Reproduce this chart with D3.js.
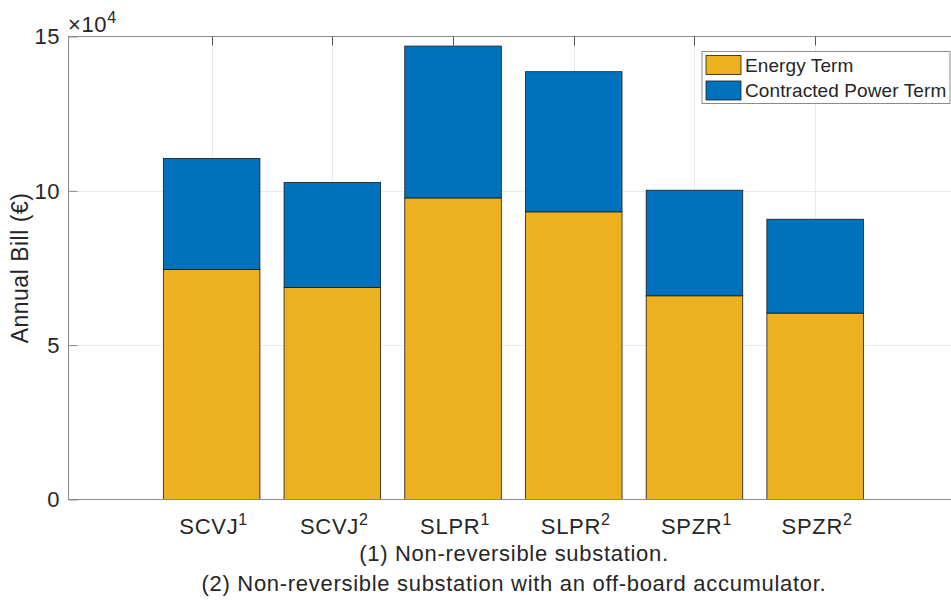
<!DOCTYPE html>
<html>
<head>
<meta charset="utf-8">
<script src="https://cdn.jsdelivr.net/npm/d3@7"></script>
<style>
  body { margin: 0; background: #fff; }
  svg text { font-family: "Liberation Sans", Arial, sans-serif; fill: #262626; }
</style>
</head>
<body>
<div id="chart"></div>
<script>
// chart data
const categories = ["SCVJ", "SCVJ", "SLPR", "SLPR", "SPZR", "SPZR"];
const superscripts = ["1", "2", "1", "2", "1", "2"];
const energyTerm = [74500, 68700, 97700, 93200, 66000, 60400];
const powerTerm = [36000, 34000, 49200, 45400, 34200, 30400];
const seriesNames = ["Energy Term", "Contracted Power Term"];
const seriesColors = ["#EDB120", "#0072BD"];
const yTicks = [0, 5e4, 10e4, 15e4];
const footnotes = [
  "(1) Non-reversible substation.",
  "(2) Non-reversible substation with an off-board accumulator."
];

const W = 951, H = 600;
const plot = {left: 68, right: 960, top: 36.5, bottom: 499.5};

const svg = d3.select("#chart").append("svg")
  .attr("width", W).attr("height", H);

const rows = categories.map((c, i) => ({idx: i + 1, energy: energyTerm[i], power: powerTerm[i]}));
const stack = d3.stack().keys(["energy", "power"]);
const layers = stack(rows);

const x = d3.scaleLinear().domain([-0.19, 7.2]).range([plot.left, plot.right]);
const y = d3.scaleLinear().domain([0, 15e4]).range([plot.bottom, plot.top]);
const barW = x(0.8) - x(0);

// grid
const grid = svg.append("g").attr("stroke", "#ebebeb").attr("stroke-width", 1);
grid.selectAll(".gy").data(yTicks.slice(1, -1)).join("line")
  .attr("x1", plot.left).attr("x2", W)
  .attr("y1", d => Math.round(y(d)) + 0.5).attr("y2", d => Math.round(y(d)) + 0.5);
grid.selectAll(".gx").data(rows).join("line")
  .attr("x1", d => Math.round(x(d.idx)) + 0.5).attr("x2", d => Math.round(x(d.idx)) + 0.5)
  .attr("y1", plot.top).attr("y2", plot.bottom);

// bars
svg.append("g").selectAll("g").data(layers).join("g")
  .attr("fill", (d, i) => seriesColors[i])
  .selectAll("rect").data(d => d).join("rect")
    .attr("x", d => x(d.data.idx) - barW / 2)
    .attr("width", barW)
    .attr("y", d => y(d[1]))
    .attr("height", d => y(d[0]) - y(d[1]))
    .attr("stroke", "#1a1a1a")
    .attr("stroke-width", 0.8);

// axes box (left, bottom, top)
const axisColor = "#8a8a8a";
const box = svg.append("g").attr("stroke", axisColor).attr("stroke-width", 1).attr("fill", "none");
box.append("line").attr("x1", plot.left + 0.5).attr("x2", plot.left + 0.5).attr("y1", plot.top).attr("y2", plot.bottom);
box.append("line").attr("x1", plot.left).attr("x2", W).attr("y1", plot.bottom).attr("y2", plot.bottom);
box.append("line").attr("x1", plot.left).attr("x2", W).attr("y1", plot.top).attr("y2", plot.top);

// top x ticks (pointing into the plot)
box.selectAll(".tt").data(rows).join("line")
  .attr("stroke", "#555")
  .attr("x1", d => Math.round(x(d.idx)) + 0.5).attr("x2", d => Math.round(x(d.idx)) + 0.5)
  .attr("y1", plot.top).attr("y2", plot.top + 9);

// y axis ticks and labels
const yAxis = svg.append("g")
  .attr("transform", `translate(${plot.left + 0.5},0)`)
  .call(d3.axisRight(y).tickValues(yTicks).tickSize(9).tickFormat(""));
yAxis.select(".domain").remove();
yAxis.selectAll(".tick line").attr("stroke", axisColor);

svg.append("g").selectAll("text").data(yTicks).join("text")
  .attr("x", plot.left - 8)
  .attr("y", d => y(d))
  .attr("dy", "0.36em")
  .attr("text-anchor", "end")
  .attr("font-size", 22)
  .attr("letter-spacing", 0.5)
  .text(d => d / 1e4);

// exponent label
const expo = svg.append("text").attr("x", plot.left).attr("y", 32).attr("font-size", 22)
  .attr("letter-spacing", 0.6);
expo.append("tspan").text("\u00d710");
expo.append("tspan").attr("font-size", 16).attr("dy", -9).text("4");

// x tick labels with superscripts
const xl = svg.append("g").selectAll("text").data(rows).join("text")
  .attr("x", d => x(d.idx) + 2)
  .attr("y", 534)
  .attr("text-anchor", "middle")
  .attr("font-size", 22)
  .attr("letter-spacing", 0.7);
xl.append("tspan").text((d, i) => categories[i]);
xl.append("tspan").attr("font-size", 16).attr("dy", -9).text((d, i) => superscripts[i]);

// y label
svg.append("text")
  .attr("transform", `translate(28,${(plot.top + plot.bottom) / 2}) rotate(-90)`)
  .attr("text-anchor", "middle")
  .attr("font-size", 23)
  .attr("letter-spacing", 0.5)
  .text("Annual Bill (\u20ac)");

// footnotes (x label)
svg.append("g").selectAll("text").data(footnotes).join("text")
  .attr("x", (plot.left + plot.right) / 2)
  .attr("y", (d, i) => 561 + i * 29.5)
  .attr("text-anchor", "middle")
  .attr("font-size", 22)
  .attr("letter-spacing", 0.7)
  .text(d => d);

// legend
const lg = svg.append("g").attr("transform", "translate(702,51.5)");
lg.append("rect").attr("width", 248).attr("height", 52)
  .attr("fill", "#fff").attr("stroke", axisColor).attr("stroke-width", 1);
const items = lg.selectAll(".item").data(seriesNames).join("g")
  .attr("transform", (d, i) => `translate(4,${4 + i * 25.5})`);
items.append("rect").attr("width", 35).attr("height", 19)
  .attr("fill", (d, i) => seriesColors[i]).attr("stroke", "#1a1a1a").attr("stroke-width", 0.8);
items.append("text").attr("x", 39).attr("y", 16).attr("font-size", 19).attr("letter-spacing", 0.1)
  .text(d => d);
</script>
</body>
</html>
